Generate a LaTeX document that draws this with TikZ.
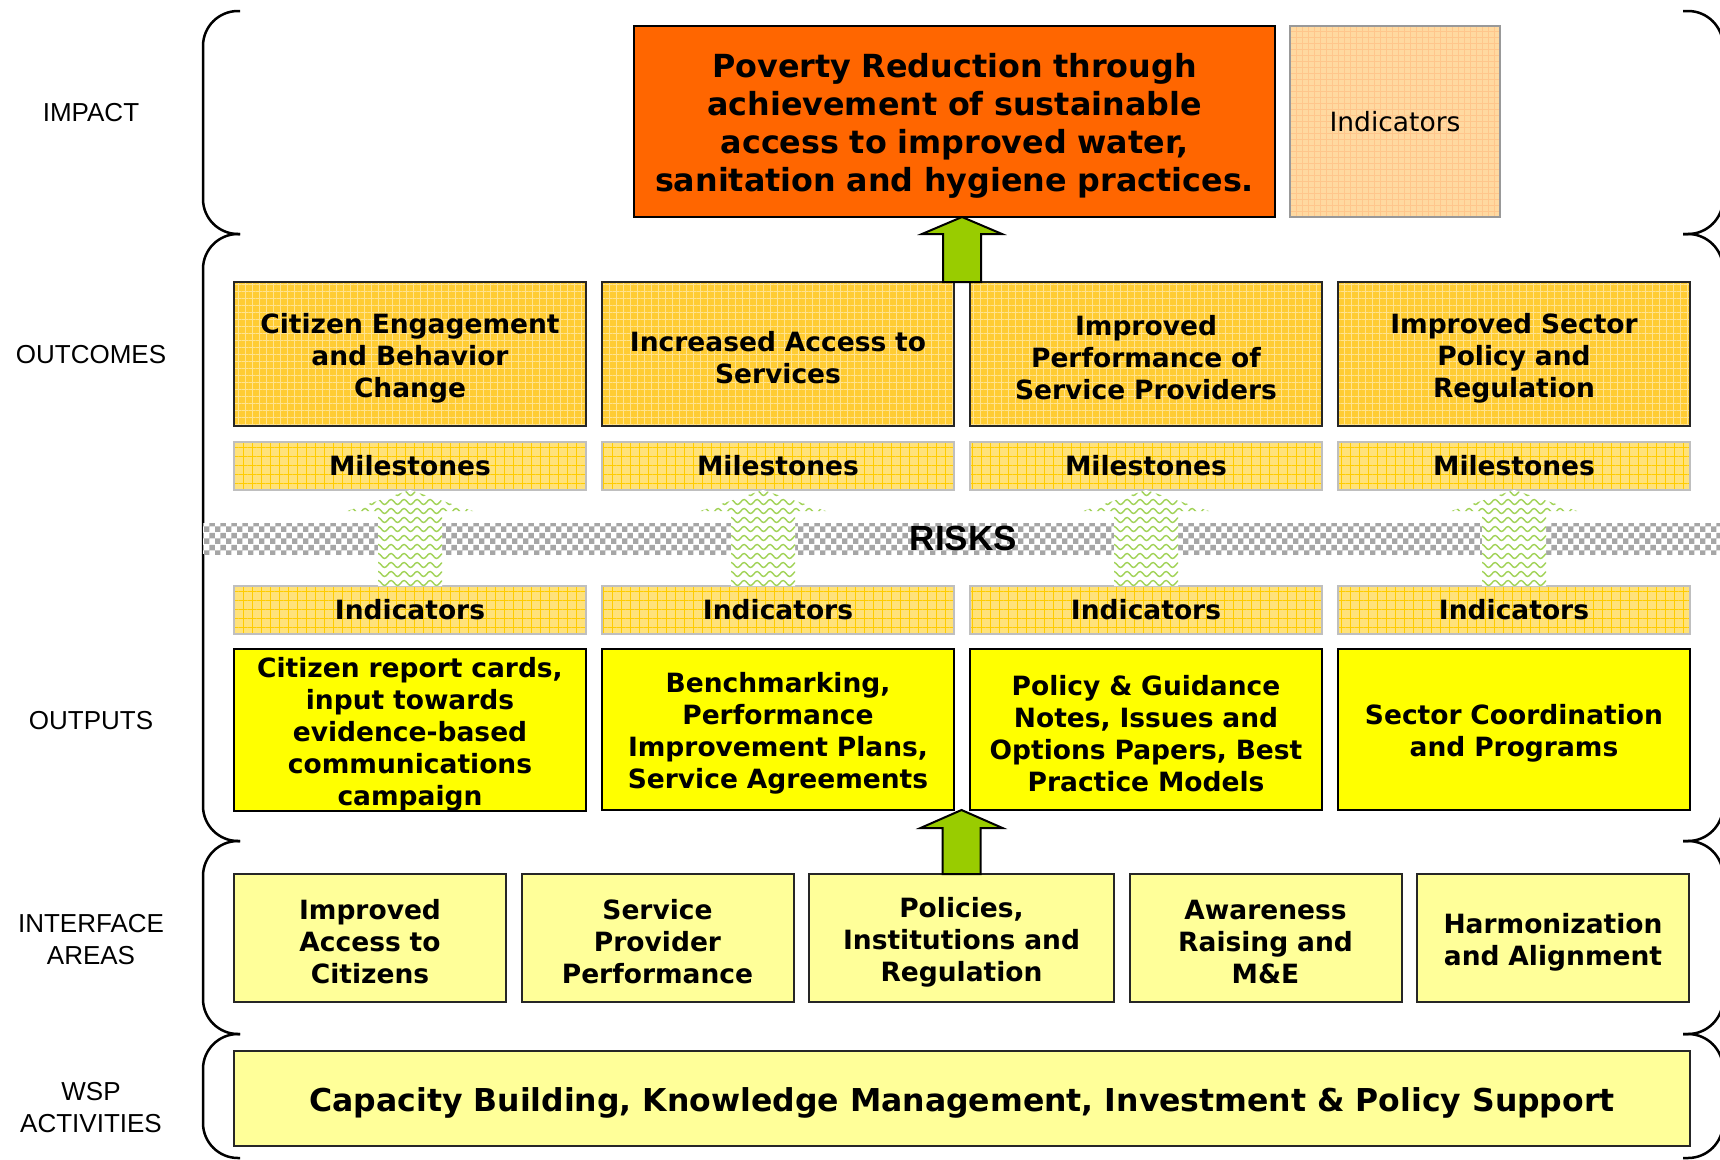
\documentclass[tikz,border=0pt]{standalone}
\usepackage{fontspec}
\setmainfont{DejaVu Sans}
\newfontfamily\labelfont{Liberation Sans}
\usepackage{tikz}
\usetikzlibrary{positioning,calc,patterns,patterns.meta,decorations.pathmorphing}
\definecolor{wsporange}{RGB}{255,102,0}
\definecolor{wspgold}{RGB}{255,204,51}
\definecolor{wspmile}{RGB}{255,226,122}
\definecolor{wspgrid}{RGB}{255,204,0}
\definecolor{wsppeach}{RGB}{255,217,160}
\definecolor{wsppale}{RGB}{255,255,153}
\definecolor{wspyellow}{RGB}{255,255,0}
\definecolor{wspgreen}{RGB}{153,204,0}
\definecolor{wspwave}{RGB}{160,210,85}
\tikzstyle{box} = [rectangle, draw=black!85, line width=2pt, inner sep=0pt, outer sep=0pt, align=center, text centered, font=\bfseries\fontsize{26.5}{32}\selectfont]
\tikzstyle{lowtext} = [execute at begin node={\noindent\rule{0pt}{1.06em}}]
\tikzstyle{outcome} = [box, lowtext, text width=340pt, minimum width=352pt, minimum height=144pt, preaction={fill=wspgold}, pattern={Hatch[distance=7pt, angle=0, line width=0.6pt]}, pattern color=wspgold!55!white]
\tikzstyle{marker} = [box, draw=black!25, minimum width=352pt, minimum height=48pt, preaction={fill=wspmile}, pattern={Hatch[distance=9pt, angle=0, line width=1pt]}, pattern color=wspgrid]
\tikzstyle{output} = [box, lowtext, text width=340pt, draw=black, fill=wspyellow, minimum width=352pt, minimum height=161pt]
\tikzstyle{interface} = [box, lowtext, text width=264pt, fill=wsppale, minimum width=272pt, minimum height=128pt]
\tikzstyle{rowlabel} = [font=\labelfont\fontsize{26}{32}\selectfont, align=center]
\tikzstyle{bigarrow} = [draw=black, line width=2pt, fill=wspgreen]
\tikzstyle{wave} = [wspwave, line width=1.4pt, decorate, decoration={snake, amplitude=2.5pt, segment length=13pt}]
\tikzstyle{brace} = [line width=2.5pt, rounded corners=35pt]
% block arrow from #1 (bottom) up to #2 (tip): shaft, head half widths, head length
\newcommand{\blockpath}[5]{let \p1=(#1), \p2=(#2) in (\x1-#3,\y1) -- (\x1-#3,\y2-#5) -- (\x1-#4,\y2-#5) -- (\x1,\y2) -- (\x1+#4,\y2-#5) -- (\x1+#3,\y2-#5) -- (\x1+#3,\y1) -- cycle}

\begin{document}
\begin{tikzpicture}[x=1pt, y=-1pt]
    \useasboundingbox (0,0) rectangle (1720,1159);

    % row brackets
    \foreach \ya/\yb in {11/234, 234/841, 841/1034, 1034/1158} {
        \draw[brace] (240,\ya) -| (203,\yb) -- (240,\yb);
        \draw[brace] (1683,\ya) -| (1723,\yb) -- (1683,\yb);
    }

    % row labels
    \node[rowlabel] (limpact) at (91,113) {IMPACT};
    \node[rowlabel] (loutcome) at (91,355) {OUTCOMES};
    \node[rowlabel] (loutput) at (91,721) {OUTPUTS};
    \node[rowlabel] (linterface) at (91,940) {INTERFACE\\AREAS};
    \node[rowlabel] (lwsp) at (91,1108) {WSP\\ACTIVITIES};

    % impact
    \node[box, lowtext, text width=625pt, draw=black, line width=2.5pt, fill=wsporange, minimum width=641pt, minimum height=191pt, font=\bfseries\fontsize{31.8}{38}\selectfont] (impact) at (954.5,121.5)
        {Poverty Reduction through\\achievement of sustainable\\access to improved water,\\sanitation and hygiene practices.};
    \node[box, draw=black!40, minimum width=210pt, minimum height=191pt, preaction={fill=wsppeach}, pattern={Hatch[distance=6pt, angle=0, line width=0.8pt]}, pattern color=orange!45, font=\fontsize{26.5}{32}\selectfont, right=15pt of impact] (impind) {Indicators};

    % outcomes
    \node[outcome, anchor=north west] (oc1) at (234,282) {Citizen Engagement\\and Behavior\\Change};
    \node[outcome, right=16pt of oc1] (oc2) {Increased Access to\\Services};
    \node[outcome, right=16pt of oc2] (oc3) {Improved\\Performance of\\Service Providers};
    \node[outcome, right=16pt of oc3] (oc4) {Improved Sector\\Policy and\\Regulation};

    % milestones and indicators
    \foreach \i in {1,...,4} {
        \node[marker, below=16pt of oc\i] (ms\i) {Milestones};
        \node[marker, below=96pt of ms\i] (ind\i) {Indicators};
    }

    % outputs
    \node[output, below=15pt of ind1] (op1) {Citizen report cards,\\input towards\\evidence-based\\communications\\campaign};
    \node[output, below=15pt of ind2] (op2) {Benchmarking,\\Performance\\Improvement Plans,\\Service Agreements};
    \node[output, below=15pt of ind3] (op3) {Policy \& Guidance\\Notes, Issues and\\Options Papers, Best\\Practice Models};
    \node[output, below=15pt of ind4] (op4) {Sector Coordination\\and Programs};

    % risks band
    \node[anchor=west, minimum width=1520pt, minimum height=31pt, inner sep=0pt, preaction={fill=white}, pattern=checkerboard, pattern color=black!35, font=\labelfont\bfseries\fontsize{35}{40}\selectfont] (risks) at (203,538.5) {RISKS};

    % milestone arrows through the risks
    \foreach \i/\dx in {1/0pt, 2/-15pt, 3/0pt, 4/0pt} {
        \coordinate (lb\i) at ([xshift=\dx]ind\i.north);
        \coordinate (lt\i) at ([xshift=\dx]ms\i.south);
        \fill[white] \blockpath{lb\i}{lt\i}{32pt}{63pt}{21pt};
        \begin{scope}
            \clip \blockpath{lb\i}{lt\i}{32pt}{63pt}{21pt};
            \foreach \k in {0,...,10}
                \draw[wave] ([xshift=-75pt, yshift=\k*9pt+3pt]lb\i) -- ++(150pt,0pt);
        \end{scope}
    }

    % interface areas
    \node[interface, anchor=north west] (if1) at (234,874) {Improved\\Access to\\Citizens};
    \node[interface, right=15.5pt of if1] (if2) {Service\\Provider\\Performance};
    \node[interface, text width=297pt, minimum width=305pt, right=15.5pt of if2] (pol) {Policies,\\Institutions and\\Regulation};
    \node[interface, right=15.5pt of pol] (if4) {Awareness\\Raising and\\M\&E};
    \node[interface, right=15.5pt of if4] (if5) {Harmonization\\and Alignment};

    % wsp activities
    \node[box, lowtext, fill=wsppale, minimum width=1456pt, minimum height=95pt, font=\bfseries\fontsize{31.5}{38}\selectfont, anchor=north west] (wsp) at (234,1051)
        {Capacity Building, Knowledge Management, Investment \& Policy Support};

    % big green arrows
    \coordinate (up1b) at ($(oc2.north east)!0.5!(oc3.north west)$);
    \coordinate (up1t) at (up1b |- impact.south);
    \draw[bigarrow] \blockpath{up1b}{up1t}{19pt}{40pt}{17pt};
    \coordinate (up2t) at (pol.north |- op3.south);
    \draw[bigarrow] \blockpath{pol.north}{up2t}{19pt}{41pt}{18pt};
\end{tikzpicture}
\end{document}
